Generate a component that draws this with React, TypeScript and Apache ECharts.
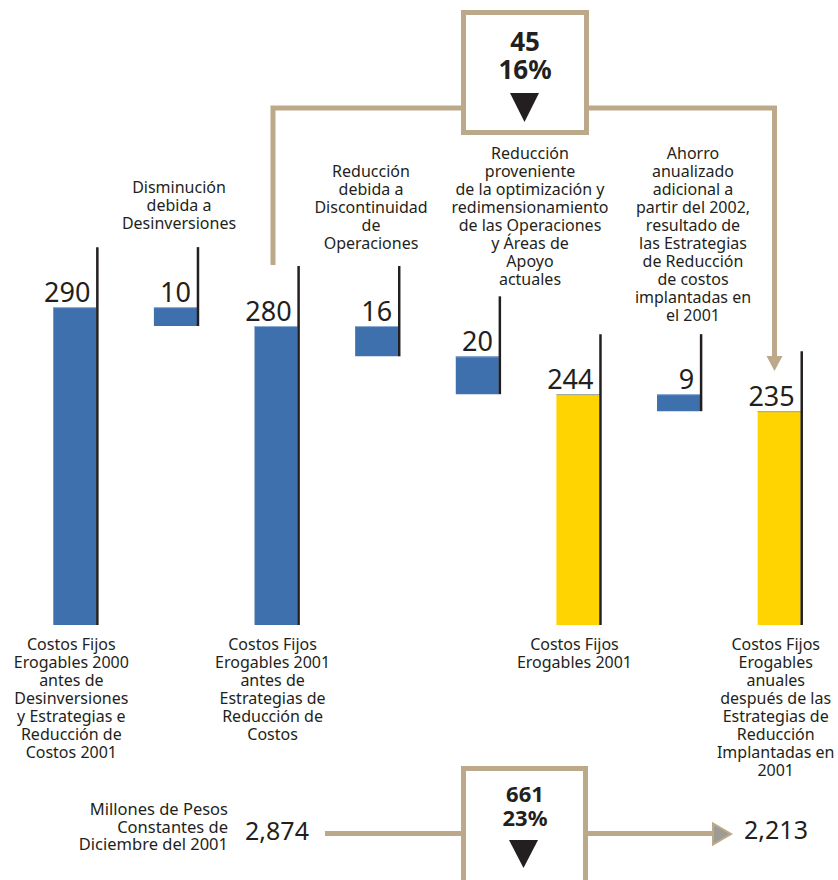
import React, { useEffect, useRef } from "react";
import * as echarts from "echarts";

const FONT = '"Noto Sans", "Open Sans", sans-serif';
const INK = "#231f20";
const TAN = "#bba989";
const BLUE = "#3d70ad";
const YELLOW = "#ffd400";

const categories = [
  "Costos Fijos\nErogables 2000\nantes de\nDesinversiones\ny Estrategias e\nReducción de\nCostos 2001",
  "",
  "Costos Fijos\nErogables 2001\nantes de\nEstrategias de\nReducción de\nCostos",
  "",
  "",
  "Costos Fijos\nErogables 2001",
  "",
  "Costos Fijos\nErogables\nanuales\ndespués de las\nEstrategias de\nReducción\nImplantadas en\n2001",
];
// totals are absolute, deltas are changes from the running level
const values = [290, -10, 280, -16, -20, 244, -9, 235];
const kinds = ["total", "delta", "total", "delta", "delta", "total", "delta", "total"];
const barColors = [BLUE, BLUE, BLUE, BLUE, BLUE, YELLOW, BLUE, YELLOW];

const annotations = [
  { text: "Disminución\ndebida a\nDesinversiones", x: 179, y: 178 },
  { text: "Reducción\ndebida a\nDiscontinuidad\nde\nOperaciones", x: 371, y: 162 },
  {
    text: "Reducción\nproveniente\nde la optimización y\nredimensionamiento\nde las Operaciones\ny Áreas de\nApoyo\nactuales",
    x: 530,
    y: 144,
  },
  {
    text: "Ahorro\nanualizado\nadicional a\npartir del 2002,\nresultado de\nlas Estrategias\nde Reducción\nde costos\nimplantadas en\nel 2001",
    x: 693,
    y: 144,
  },
];

const topBox = { value: "45", pct: "16%" };
const bottomBox = { value: "661", pct: "23%" };
const startTotal = "2,874";
const endTotal = "2,213";
const unitsNote = "Millones de Pesos\nConstantes de\nDiciembre del 2001";

const Y_MIN = 122;
const Y_MAX = 400;

function buildData() {
  let level = 0;
  return values.map((v, i) => {
    if (kinds[i] === "total") {
      level = v;
      return [i, Y_MIN, v, String(v)];
    }
    const hi = level;
    const lo = level + v;
    level = lo;
    return [i, lo, hi, String(Math.abs(v))];
  });
}

export default function App() {
  const ref = useRef<HTMLDivElement>(null);
  useEffect(() => {
    if (!ref.current) return;
    const chart = echarts.init(ref.current, null, { renderer: "svg" });
    const data = buildData();
    const txt = (text: string, x: number, y: number, size: number, extra: any = {}) => ({
      type: "text",
      z: 20,
      style: {
        text,
        x,
        y,
        fill: INK,
        fontSize: size,
        fontFamily: FONT,
        align: "center",
        verticalAlign: "middle",
        ...extra,
      },
    });
    const option: any = {
      animation: false,
      backgroundColor: "#ffffff",
      grid: {
        left: 25,
        right: 8,
        top: 99,
        bottom: 255,
        containLabel: false,
        outerBoundsMode: "none",
      },
      xAxis: {
        type: "category",
        data: categories,
        axisLine: { show: false },
        axisTick: { show: false },
        axisLabel: {
          interval: 0,
          margin: 10,
          fontSize: 16,
          lineHeight: 18,
          fontFamily: FONT,
          color: INK,
          padding: [0, 8, 0, 0],
        },
      },
      yAxis: { type: "value", min: Y_MIN, max: Y_MAX, show: false, splitLine: { show: false } },
      series: [
        {
          type: "custom",
          clip: false,
          encode: { x: 0, y: [1, 2] },
          data,
          renderItem: (params: any, api: any) => {
            const idx = api.value(0);
            const lo = api.value(1);
            const hi = api.value(2);
            const i = params.dataIndex;
            const pTop = api.coord([idx, hi]);
            const pBot = api.coord([idx, lo]);
            const band = api.size([1, 0])[0];
            const half = band * 0.219;
            const cx = pTop[0];
            const color = barColors[i];
            return {
              type: "group",
              children: [
                {
                  type: "rect",
                  shape: { x: cx - half, y: pTop[1], width: half * 2 - 1, height: pBot[1] - pTop[1] },
                  style: { fill: color },
                },
                {
                  type: "line",
                  shape: { x1: cx - half, y1: pTop[1] + 0.5, x2: cx + half, y2: pTop[1] + 0.5 },
                  style: { stroke: color === YELLOW ? "#8ea3bd" : "#8fb0d6", lineWidth: 1 },
                },
                {
                  type: "line",
                  shape: { x1: cx + half, y1: pTop[1] - 60, x2: cx + half, y2: pBot[1] },
                  style: { stroke: INK, lineWidth: 2.5 },
                },
                {
                  type: "text",
                  style: {
                    text: api.value(3),
                    x: cx + half - 7,
                    y: pTop[1] - 2,
                    align: "right",
                    verticalAlign: "bottom",
                    fontSize: 27,
                    fontFamily: FONT,
                    fill: INK,
                  },
                },
              ],
            };
          },
        },
      ],
      graphic: [
        // top connectors
        {
          type: "polyline",
          shape: { points: [[273, 265], [273, 108], [462, 108]] },
          style: { stroke: TAN, lineWidth: 5, fill: null },
        },
        {
          type: "polyline",
          shape: { points: [[588, 108], [774.5, 108], [774.5, 358]] },
          style: { stroke: TAN, lineWidth: 5, fill: null },
        },
        {
          type: "polygon",
          shape: { points: [[766.5, 356], [782.5, 356], [774.5, 371]] },
          style: { fill: TAN },
        },
        {
          type: "rect",
          shape: { x: 463.5, y: 12.5, width: 123, height: 120 },
          style: { fill: "#ffffff", stroke: TAN, lineWidth: 5 },
        },
        txt(topBox.value, 525, 41, 26, { fontWeight: "bold" }),
        txt(topBox.pct, 525, 69, 26, { fontWeight: "bold" }),
        {
          type: "polygon",
          shape: { points: [[510, 93], [539, 93], [524.5, 122]] },
          style: { fill: INK },
        },
        // annotations
        ...annotations.map((a) =>
          txt(a.text, a.x, a.y, 16, { verticalAlign: "top", lineHeight: 18 })
        ),
        // bottom summary
        {
          type: "line",
          shape: { x1: 325, y1: 833.5, x2: 462, y2: 833.5 },
          style: { stroke: TAN, lineWidth: 5 },
        },
        {
          type: "line",
          shape: { x1: 588, y1: 833.5, x2: 714, y2: 833.5 },
          style: { stroke: TAN, lineWidth: 5 },
        },
        {
          type: "polygon",
          shape: { points: [[713, 823.5], [713, 844.5], [731, 834]] },
          style: { fill: "#9e9b94", stroke: TAN, lineWidth: 2 },
        },
        {
          type: "rect",
          shape: { x: 463.5, y: 768.5, width: 122, height: 130 },
          style: { fill: "#ffffff", stroke: TAN, lineWidth: 5 },
        },
        txt(bottomBox.value, 525, 793, 22, { fontWeight: "bold" }),
        txt(bottomBox.pct, 525, 817, 22, { fontWeight: "bold" }),
        {
          type: "polygon",
          shape: { points: [[509, 840], [538, 840], [523.5, 868]] },
          style: { fill: INK },
        },
        txt(startTotal, 277, 830, 25),
        txt(endTotal, 776, 829, 25),
        txt(unitsNote, 228, 826, 16.5, { align: "right", lineHeight: 17.5 }),
      ],
    };
    chart.setOption(option);
    return () => chart.dispose();
  }, []);
  return (
    <div
      ref={ref}
      style={{ position: "fixed", left: 0, top: 0, width: 838, height: 880, background: "#fff" }}
    />
  );
}
